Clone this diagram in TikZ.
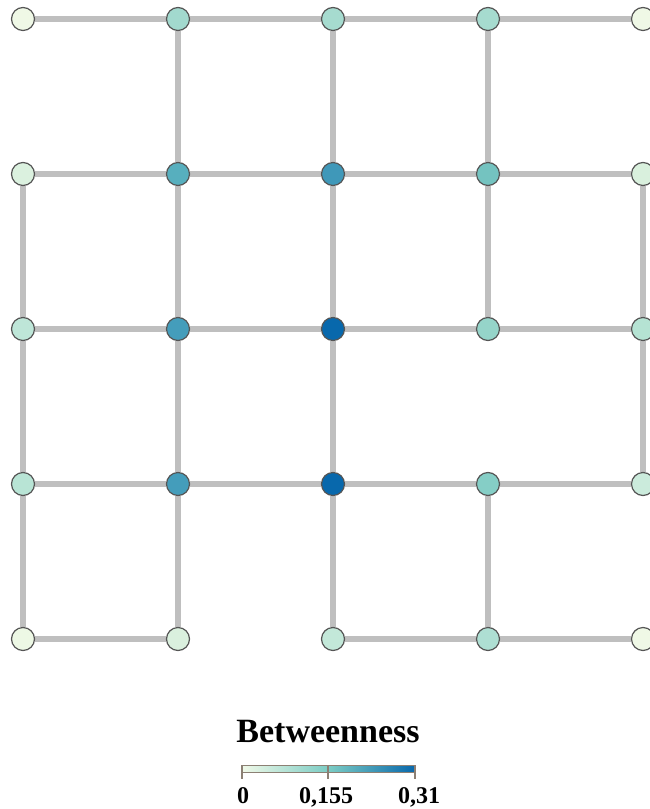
\documentclass[tikz,border=0pt]{standalone}
\usepackage{fontspec}
\setmainfont{Liberation Serif}
\usetikzlibrary{backgrounds}
\definecolor{edgegray}{HTML}{BFBFBF}
\definecolor{nodeline}{HTML}{555555}
\definecolor{barline}{HTML}{8C8074}
\definecolor{lowc}{HTML}{F0F9E8}
\definecolor{midc}{HTML}{7BCCC4}
\definecolor{highc}{HTML}{0868AC}
% node colours row/col
\definecolor{c00}{HTML}{EFF8E6}\definecolor{c01}{HTML}{A2D9CE}\definecolor{c02}{HTML}{A6DBCF}\definecolor{c03}{HTML}{A6DBCF}\definecolor{c04}{HTML}{EFF8E6}
\definecolor{c10}{HTML}{DBF1DF}\definecolor{c11}{HTML}{57AFBE}\definecolor{c12}{HTML}{3F98B9}\definecolor{c13}{HTML}{74C3C0}\definecolor{c14}{HTML}{D9F0DD}
\definecolor{c20}{HTML}{BEE6D8}\definecolor{c21}{HTML}{449DBB}\definecolor{c22}{HTML}{0868AC}\definecolor{c23}{HTML}{95D4C9}\definecolor{c24}{HTML}{B5E3D3}
\definecolor{c30}{HTML}{B8E4D5}\definecolor{c31}{HTML}{449DBB}\definecolor{c32}{HTML}{0868AC}\definecolor{c33}{HTML}{85CEC6}\definecolor{c34}{HTML}{CBEBDC}
\definecolor{c40}{HTML}{EDF8E5}\definecolor{c41}{HTML}{DAF0DE}\definecolor{c42}{HTML}{C3E8D9}\definecolor{c43}{HTML}{AEDFD3}\definecolor{c44}{HTML}{EFF8E6}
\tikzset{
  vertex/.style={circle, minimum size=17.25pt, inner sep=0pt, draw=nodeline, line width=0.9pt},
  link/.style={draw=edgegray, line width=3.9pt},
  tickmark/.style={draw=barline, line width=1.1pt},
  lab/.style={font=\bfseries\fontsize{18}{18}\selectfont, anchor=base, inner sep=0pt}
}
\begin{document}
\begin{tikzpicture}[x=0.75pt,y=-0.75pt]
\useasboundingbox (0,0) rectangle (649,809);
\foreach \r/\yy in {0/19,1/174,2/329,3/484,4/639}{
  \foreach \c/\xx in {0/23,1/178,2/333,3/488,4/643}{
    \node[vertex, fill=c\r\c] (n\r\c) at (\xx,\yy) {};
  }
}
\begin{scope}[on background layer]
% horizontal
\foreach \r in {0,1,2,3}{
  \foreach \a/\b in {0/1,1/2,2/3,3/4}{ \draw[link] (n\r\a) -- (n\r\b); }
}
\draw[link] (n40) -- (n41);
\draw[link] (n42) -- (n43);
\draw[link] (n43) -- (n44);
% vertical
\foreach \c in {1,2,3}{ \draw[link] (n0\c) -- (n1\c); }
\foreach \c in {0,1,2,3,4}{ \draw[link] (n1\c) -- (n2\c); }
\foreach \c in {0,1,2,4}{ \draw[link] (n2\c) -- (n3\c); }
\foreach \c in {0,1,2,3}{ \draw[link] (n3\c) -- (n4\c); }
\end{scope}
% legend
\node[font=\bfseries\fontsize{25.5}{25.5}\selectfont, anchor=base, inner sep=0pt] (title) at (328,742) {Betweenness};
\shade[left color=lowc, right color=highc, middle color=midc] (242,765) rectangle (415,772);
\node[draw=barline, line width=0.8pt, minimum width=129.75pt, minimum height=5.25pt, inner sep=0pt, anchor=north west] (bar) at (242,765) {};
\coordinate (t0a) at (242,765); \coordinate (t0b) at (242,779);
\coordinate (t1a) at (328,765); \coordinate (t1b) at (328,779);
\coordinate (t2a) at (415,765); \coordinate (t2b) at (415,779);
\draw[tickmark] (t0a) -- (t0b);
\draw[tickmark] (t1a) -- (t1b);
\draw[tickmark] (t2a) -- (t2b);
\node[lab] (l0) at (243,803) {0};
\node[lab] (l1) at (326,803) {0,155};
\node[lab] (l2) at (419,803) {0,31};
\end{tikzpicture}
\end{document}
